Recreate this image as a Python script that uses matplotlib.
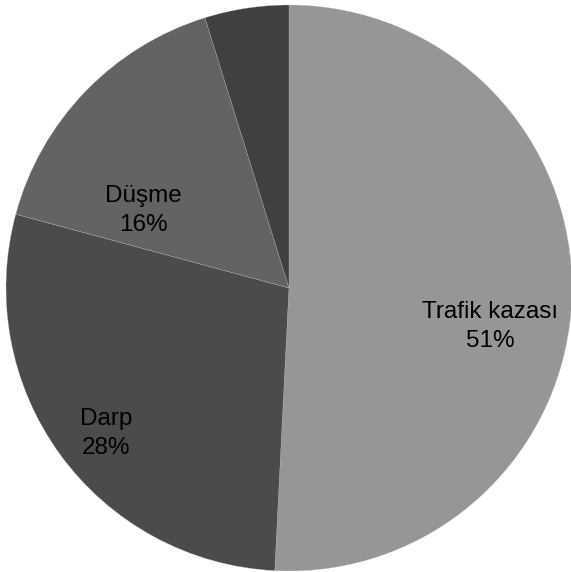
import matplotlib.pyplot as plt

labels = ['Trafik kazası', 'Darp', 'Düşme', '']
values = [50.8, 28.4, 16.0, 4.8]
pcts = ['51%', '28%', '16%', '']
colors = ['#969696', '#4b4b4b', '#636363', '#404040']

plt.rcParams['font.family'] = ['Liberation Sans', 'DejaVu Sans']

fig = plt.figure(figsize=(5.71, 5.72), dpi=100)
ax = fig.add_axes([6 / 571, 1 / 572, 566 / 571, 566 / 572])
ax.pie(values, colors=colors, startangle=90, counterclock=False, radius=1,
       wedgeprops=dict(edgecolor='#bbbbbb', linewidth=0.2))
ax.set_xlim(-1, 1)
ax.set_ylim(-1, 1)
ax.axis('off')

# label spots
spots = [(0.71, -0.135), (-0.645, -0.515), (-0.516, 0.275)]
for (x, y), name, p in zip(spots, labels, pcts):
    ax.text(x, y, name + '\n' + p, ha='center', va='center', fontsize=17.5,
            color='black', linespacing=1.4)

fig.savefig('out.png', dpi=100)
